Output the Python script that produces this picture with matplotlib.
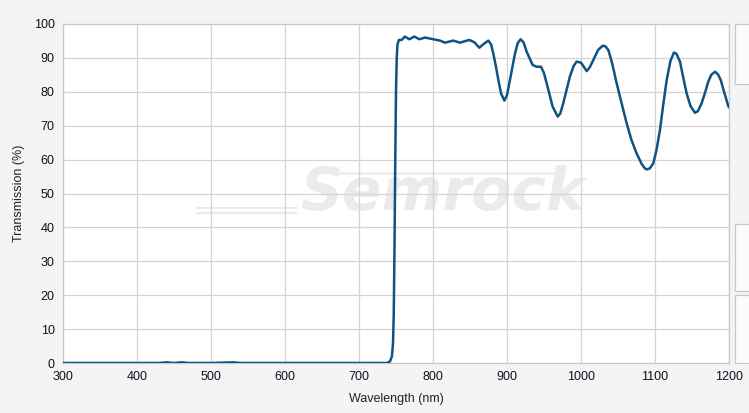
import matplotlib.pyplot as plt
from matplotlib.patches import Rectangle

# Transmission spectrum (nm, %)
wavelength = [300, 400, 430, 440, 450, 460, 470, 500, 530, 540, 600, 700, 738, 742, 744.5,
              746, 747, 748, 749, 750, 751, 752, 754, 757.7, 762, 768, 774.8, 781.5,
              789.2, 800.5, 809.5, 816.2, 827.5, 836.5, 849, 856, 862.6, 869, 874.8,
              878.5, 881.5, 885, 888.3, 892, 896.4, 900, 904, 910.8, 914.5, 918.5,
              922.5, 926.6, 934.7, 940, 946, 950, 953.6, 961.7, 968.5, 972, 976, 985,
              990, 994, 1000, 1007.7, 1012, 1016.7, 1023, 1029.3, 1033, 1037, 1042,
              1048.2, 1055, 1061.7, 1068, 1075.2, 1082, 1086, 1088.7, 1093, 1097.7, 1102,
              1106.7, 1111, 1115.8, 1121, 1125.7, 1129, 1133.8, 1138, 1142.8, 1148,
              1154, 1158, 1163, 1168, 1172, 1176, 1181, 1185, 1188.8, 1194, 1199, 1200]
transmission = [0, 0, 0, 0.2, 0, 0.2, 0, 0, 0.2, 0, 0, 0, 0, 0.5, 2,
                6, 15, 35, 60, 80, 90, 94, 95.3, 95.3, 96.3, 95.5, 96.3, 95.5,
                96.0, 95.5, 95.1, 94.5, 95.1, 94.5, 95.3, 94.6, 93.0, 94.2, 95.1,
                94.0, 91.3, 87.5, 83.5, 79.5, 77.4, 79.0, 83.5, 91.3, 94.4, 95.5,
                94.5, 91.8, 87.9, 87.4, 87.4, 85.5, 82.5, 75.6, 72.7, 73.6, 76.6, 84.5,
                87.6, 88.9, 88.6, 86.1, 87.3, 89.4, 92.3, 93.6, 93.4, 92.3, 88.5,
                82.5, 76.5, 70.7, 65.9, 61.8, 58.7, 57.5, 57.1, 57.4, 58.9, 62.8,
                68.7, 76.0, 83.5, 89.2, 91.6, 91.2, 88.9, 84.4, 79.5, 75.8,
                73.8, 74.3, 76.6, 80.0, 83.0, 85.0, 85.9, 85.2, 83.5, 79.5, 75.8, 75.5]

x_ticks = list(range(300, 1201, 100))
y_ticks = list(range(0, 101, 10))

W, H = 749, 413
fig = plt.figure(figsize=(W / 100, H / 100), dpi=100, facecolor="#f4f4f4")
ax = fig.add_axes([63 / W, (H - 363) / H, (729 - 63) / W, (363 - 24) / H])
ax.set_facecolor("white")

# watermark
ax.text(813, 50.0, "Semrock", fontsize=42, fontweight="bold", style="italic",
        color="#ebebeb", ha="center", va="center", family="DejaVu Sans", zorder=0)
ax.plot([481, 615], [45.7, 45.7], color="#e8e8e8", lw=1.3, zorder=0)
ax.plot([481, 615], [44.2, 44.2], color="#e8e8e8", lw=1.3, zorder=0)
ax.plot([670, 968], [55.9, 55.9], color="#eeeaf4", lw=1.8, zorder=0)

ax.plot(wavelength, transmission, color="#0d5384", lw=1.8, zorder=3)

ax.set_xlim(300, 1200)
ax.set_ylim(0, 100)
ax.set_xticks(x_ticks)
ax.set_yticks(y_ticks)
ax.grid(True, color="#d4d4d4", lw=0.9)
ax.set_axisbelow(True)
for s in ax.spines.values():
    s.set_color("#c8c8c8")
    s.set_linewidth(0.9)
ax.tick_params(length=0, labelsize=9, colors="#111122", pad=6)
for lab in ax.get_xticklabels() + ax.get_yticklabels():
    lab.set_family("Liberation Sans")
ax.set_xlabel("Wavelength (nm)", fontsize=9, family="Liberation Sans", labelpad=7, color="#222222")
ax.set_ylabel("Transmission (%)", fontsize=9, family="Liberation Sans", labelpad=6, color="#222222")

# side panels on the right edge
for y0, y1 in [(24, 84), (224, 291), (295, 363)]:
    fig.patches.append(Rectangle((735 / W, (H - y1) / H), 20 / W, (y1 - y0) / H,
                                 transform=fig.transFigure, facecolor="#fbfbfb",
                                 edgecolor="#c8c8c8", lw=0.9))

fig.savefig("out.png", dpi=100, facecolor=fig.get_facecolor())
